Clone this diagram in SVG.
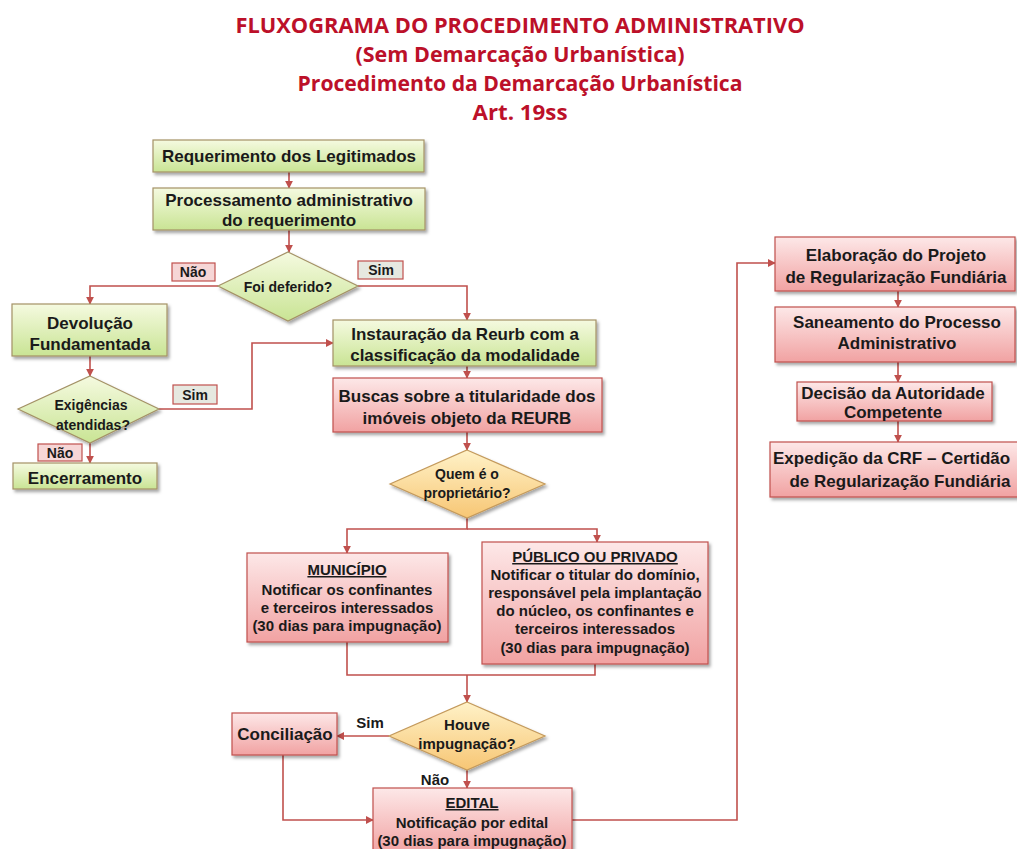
<svg xmlns="http://www.w3.org/2000/svg" width="1017" height="849" viewBox="0 0 1017 849">
<defs>
<style>
.t{font-family:"Liberation Sans",Arial,sans-serif;font-weight:bold;fill:#1a1a1a;text-anchor:middle}
.f17{font-size:17px}
.f15{font-size:15px}
.f14{font-size:14px}
.title{font-family:"Open Sans","Liberation Sans",sans-serif;font-weight:bold;fill:#bc1029;text-anchor:middle;font-size:21px}
.green{fill:url(#gG);stroke:#a49266;stroke-width:1.2;filter:url(#sh)}
.red{fill:url(#gR);stroke:#c0504d;stroke-width:1.2;filter:url(#sh)}
.yel{fill:url(#gY);stroke:#c49a5c;stroke-width:1.2;filter:url(#sh)}
.gd{fill:url(#gG);stroke:#a49266;stroke-width:1.2;filter:url(#sh)}
.nao{fill:#f6d6d6;stroke:#c0504d;stroke-width:1.2}
.sim{fill:#e6e8e0;stroke:#c0504d;stroke-width:1.2}
.c{fill:none;stroke:#c0504d;stroke-width:1.6}
.u{text-decoration:underline}
</style>
<linearGradient id="gG" x1="0" y1="0" x2="0" y2="1"><stop offset="0" stop-color="#f5fae0"/><stop offset="1" stop-color="#c9e494"/></linearGradient>
<linearGradient id="gR" x1="0" y1="0" x2="0" y2="1"><stop offset="0" stop-color="#fde8e8"/><stop offset="1" stop-color="#f1a2a2"/></linearGradient>
<linearGradient id="gY" x1="0" y1="0" x2="0" y2="1"><stop offset="0" stop-color="#fff2c8"/><stop offset="1" stop-color="#f7c674"/></linearGradient>
<filter id="sh" x="-10%" y="-10%" width="130%" height="140%"><feDropShadow dx="2" dy="2.5" stdDeviation="1.5" flood-color="#000" flood-opacity="0.35"/></filter>
<marker id="ar" viewBox="0 0 10 10" refX="9" refY="5" markerWidth="5" markerHeight="5" orient="auto"><path d="M0,0 L10,5 L0,10 z" fill="#c0504d"/></marker>
</defs>
<rect width="1017" height="849" fill="#ffffff"/>

<g id="title">
<text class="title" x="520" y="33" textLength="569" lengthAdjust="spacingAndGlyphs">FLUXOGRAMA DO PROCEDIMENTO ADMINISTRATIVO</text>
<text class="title" x="520" y="62" textLength="329" lengthAdjust="spacingAndGlyphs">(Sem Demarcação Urbanística)</text>
<text class="title" x="520" y="91" textLength="445" lengthAdjust="spacingAndGlyphs">Procedimento da Demarcação Urbanística</text>
<text class="title" x="520" y="120" textLength="95" lengthAdjust="spacingAndGlyphs">Art. 19ss</text>
</g>

<g id="connectors">
<path class="c" d="M289,172 V188" marker-end="url(#ar)"/>
<path class="c" d="M289,230 V252" marker-end="url(#ar)"/>
<path class="c" d="M218,286 H90 V304" marker-end="url(#ar)"/>
<path class="c" d="M358,286 H467 V320" marker-end="url(#ar)"/>
<path class="c" d="M90,356 V376" marker-end="url(#ar)"/>
<path class="c" d="M159,409 H252 V343 H333" marker-end="url(#ar)"/>
<path class="c" d="M90,443 V463" marker-end="url(#ar)"/>
<path class="c" d="M467,366 V378" marker-end="url(#ar)"/>
<path class="c" d="M467,432 V450" marker-end="url(#ar)"/>
<path class="c" d="M467,518 V529 H347 V553" marker-end="url(#ar)"/>
<path class="c" d="M467,529 H597 V542" marker-end="url(#ar)"/>
<path class="c" d="M347,642 V675 H595 V664"/>
<path class="c" d="M467,675 V702" marker-end="url(#ar)"/>
<path class="c" d="M389,736 H337" marker-end="url(#ar)"/>
<path class="c" d="M467,770 V788" marker-end="url(#ar)"/>
<path class="c" d="M283,755 V820 H373" marker-end="url(#ar)"/>
<path class="c" d="M572,820 H737 V263 H775" marker-end="url(#ar)"/>
<path class="c" d="M898,291 V307" marker-end="url(#ar)"/>
<path class="c" d="M898,362 V382" marker-end="url(#ar)"/>
<path class="c" d="M898,421 V442" marker-end="url(#ar)"/>
</g>

<g id="n-requerimento">
<rect class="green" x="153" y="140" width="271" height="32"/>
<text class="t f17" x="289" y="162">Requerimento dos Legitimados</text>
</g>
<g id="n-processamento">
<rect class="green" x="153" y="188" width="272" height="42"/>
<text class="t f17" x="289" y="206">Processamento administrativo</text>
<text class="t f17" x="289" y="226">do requerimento</text>
</g>
<g id="n-deferido">
<polygon class="gd" points="288,252 358,286 288,321 218,286"/>
<text class="t f14" x="288" y="292">Foi deferido?</text>
</g>
<g id="lbl-nao1">
<rect class="nao" x="172" y="263" width="43" height="18"/>
<text class="t f14" x="193" y="277">Não</text>
</g>
<g id="lbl-sim1">
<rect class="sim" x="358" y="261" width="45" height="18"/>
<text class="t f14" x="381" y="275">Sim</text>
</g>
<g id="n-devolucao">
<rect class="green" x="12" y="304" width="155" height="52"/>
<text class="t f17" x="90" y="329">Devolução</text>
<text class="t f17" x="90" y="350">Fundamentada</text>
</g>
<g id="n-exigencias">
<polygon class="gd" points="90,376 159,409 90,443 18,409"/>
<text class="t f14" x="91" y="410">Exigências</text>
<text class="t f14" x="93" y="430">atendidas?</text>
</g>
<g id="lbl-sim2">
<rect class="sim" x="173" y="385" width="44" height="19"/>
<text class="t f14" x="195" y="400">Sim</text>
</g>
<g id="lbl-nao2">
<rect class="nao" x="38" y="444" width="44" height="17"/>
<text class="t f14" x="60" y="458">Não</text>
</g>
<g id="n-encerramento">
<rect class="green" x="13" y="463" width="144" height="26"/>
<text class="t f17" x="85" y="484">Encerramento</text>
</g>
<g id="n-instauracao">
<rect class="green" x="333" y="320" width="263" height="46"/>
<text class="t f17" x="465" y="340">Instauração da Reurb com a</text>
<text class="t f17" x="465" y="361">classificação da modalidade</text>
</g>
<g id="n-buscas">
<rect class="red" x="333" y="378" width="269" height="54"/>
<text class="t f17" x="467" y="402">Buscas sobre a titularidade dos</text>
<text class="t f17" x="467" y="424">imóveis objeto da REURB</text>
</g>
<g id="n-quem">
<polygon class="yel" points="467,450 545,484 467,518 390,484"/>
<text class="t f14" x="467" y="479">Quem é o</text>
<text class="t f14" x="467" y="498">proprietário?</text>
</g>
<g id="n-municipio">
<rect class="red" x="247" y="553" width="201" height="89"/>
<text class="t f15 u" x="347" y="575">MUNICÍPIO</text>
<text class="t f15" x="347" y="595">Notificar os confinantes</text>
<text class="t f15" x="347" y="613">e terceiros interessados</text>
<text class="t f15" x="347" y="631">(30 dias para impugnação)</text>
</g>
<g id="n-publico">
<rect class="red" x="482" y="542" width="226" height="122"/>
<text class="t f15 u" x="595" y="562">PÚBLICO OU PRIVADO</text>
<text class="t f15" x="595" y="580">Notificar o titular do domínio,</text>
<text class="t f15" x="595" y="598">responsável pela implantação</text>
<text class="t f15" x="595" y="616">do núcleo, os confinantes e</text>
<text class="t f15" x="595" y="634">terceiros interessados</text>
<text class="t f15" x="595" y="653">(30 dias para impugnação)</text>
</g>
<g id="n-houve">
<polygon class="yel" points="467,702 545,736 467,770 389,736"/>
<text class="t f15" x="467" y="730">Houve</text>
<text class="t f15" x="467" y="749">impugnação?</text>
</g>
<g id="lbl-sim3"><text class="t f15" x="370" y="728">Sim</text></g>
<g id="lbl-nao3"><text class="t f15" x="435" y="785">Não</text></g>
<g id="n-conciliacao">
<rect class="red" x="232" y="713" width="105" height="42"/>
<text class="t f17" x="285" y="740">Conciliação</text>
</g>
<g id="n-edital">
<rect class="red" x="373" y="788" width="199" height="66"/>
<text class="t f15 u" x="472" y="808">EDITAL</text>
<text class="t f15" x="472" y="828">Notificação por edital</text>
<text class="t f15" x="472" y="846">(30 dias para impugnação)</text>
</g>
<g id="n-elaboracao">
<rect class="red" x="775" y="237" width="240" height="54"/>
<text class="t f17" x="896" y="261">Elaboração do Projeto</text>
<text class="t f17" x="896" y="283">de Regularização Fundiária</text>
</g>
<g id="n-saneamento">
<rect class="red" x="775" y="307" width="240" height="55"/>
<text class="t f17" x="897" y="328">Saneamento do Processo</text>
<text class="t f17" x="897" y="349">Administrativo</text>
</g>
<g id="n-decisao">
<rect class="red" x="797" y="382" width="195" height="39"/>
<text class="t f17" x="893" y="399">Decisão da Autoridade</text>
<text class="t f17" x="893" y="418">Competente</text>
</g>
<g id="n-expedicao">
<rect class="red" x="770" y="442" width="250" height="55"/>
<text class="t f17" x="773" y="464" style="text-anchor:start">Expedição da CRF – Certidão</text>
<text class="t f17" x="900" y="487">de Regularização Fundiária</text>
</g>
</svg>
